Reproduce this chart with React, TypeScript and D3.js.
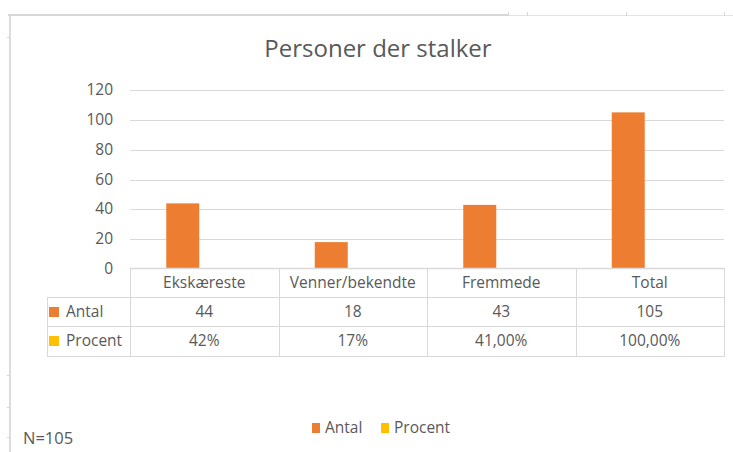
import React from "react";
import * as d3 from "d3";

const categories = ["Ekskæreste", "Venner/bekendte", "Fremmede", "Total"];
const antal = [44, 18, 43, 105];
const procent = [0.42, 0.17, 0.41, 1.0];
const antalLabels = ["44", "18", "43", "105"];
const procentLabels = ["42%", "17%", "41,00%", "100,00%"];
const yTicks = [0, 20, 40, 60, 80, 100, 120];
const seriesNames = ["Antal", "Procent"];
const seriesColors = ["#ED7D31", "#FFC000"];

const W = 733;
const H = 452;
const FONT = "'Open Sans', sans-serif";
const TXT = "#595959";
const GRID = "#d9d9d9";

export default function App() {
  const left = 130;
  const right = 724;
  const top = 90;
  const bottom = 269;
  const x = d3.scaleBand<string>().domain(categories).range([left, right]);
  const y = d3.scaleLinear().domain([0, 120]).range([bottom, top]);
  const barW = 33;
  const rows = [269, 298, 327, 357];
  const tableLeft = 47;
  const baselines = [288, 317, 346];

  return (
    <svg width={W} height={H} style={{ position: "absolute", left: 0, top: 0, background: "#fff" }}>
      {/* spreadsheet frame */}
      <line x1={8} x2={508} y1={15} y2={15} stroke="#d6d6d6" strokeWidth={2} />
      <line x1={508} x2={733} y1={15.5} y2={15.5} stroke="#e3e3e3" strokeWidth={1} />
      {[508, 527, 626, 724].map((v) => (
        <line key={v} x1={v + 0.5} x2={v + 0.5} y1={12} y2={16} stroke="#d6d6d6" />
      ))}
      <line x1={10} x2={10} y1={15} y2={452} stroke="#dcdcdc" strokeWidth={2} />
      {[37, 375, 407, 437].map((v) => (
        <line key={v} x1={7} x2={10} y1={v + 0.5} y2={v + 0.5} stroke="#d6d6d6" />
      ))}

      {/* title */}
      <text x={378} y={57} textAnchor="middle" fontFamily={FONT} fontSize={24} fill={TXT}>
        Personer der stalker
      </text>

      {/* grid + y ticks */}
      {yTicks.map((t) => (
        <g key={t}>
          {t > 0 && (
            <line x1={left} x2={right} y1={Math.round(y(t)) + 0.5} y2={Math.round(y(t)) + 0.5} stroke={GRID} />
          )}
          <text x={113} y={y(t) + 5} textAnchor="end" fontFamily={FONT} fontSize={15.5} fill={TXT}>
            {t}
          </text>
        </g>
      ))}

      {/* bars */}
      {categories.map((c, i) => {
        const cx = (x(c) as number) + x.bandwidth() / 2;
        const hA = bottom - y(antal[i]);
        const hP = Math.floor(bottom - y(procent[i]));
        return (
          <g key={c}>
            <rect x={cx - 5 - barW} width={barW} y={bottom - hA} height={hA} fill={seriesColors[0]} />
            <rect x={cx - 5} width={barW} y={bottom - hP} height={hP} fill={seriesColors[1]} />
          </g>
        );
      })}

      {/* data table */}
      {rows.map((r, i) => (
        <line
          key={i}
          x1={i === 0 ? left : tableLeft}
          x2={right + 1}
          y1={r - 0.5}
          y2={r - 0.5}
          stroke={GRID}
          strokeWidth={i === 0 ? 1.5 : 1}
        />
      ))}
      <line x1={tableLeft + 0.5} x2={tableLeft + 0.5} y1={rows[1] - 1} y2={rows[3]} stroke={GRID} />
      {categories.map((c) => (
        <line
          key={c}
          x1={Math.round(x(c) as number) + 0.5}
          x2={Math.round(x(c) as number) + 0.5}
          y1={bottom - 1}
          y2={rows[3]}
          stroke={GRID}
        />
      ))}
      <line x1={right + 0.5} x2={right + 0.5} y1={bottom - 1} y2={rows[3]} stroke={GRID} />
      {categories.map((c, i) => {
        const cx = (x(c) as number) + x.bandwidth() / 2;
        return (
          <g key={c} fontFamily={FONT} fontSize={15.5} fill={TXT} textAnchor="middle">
            <text x={cx} y={baselines[0]}>{c}</text>
            <text x={cx} y={baselines[1]}>{antalLabels[i]}</text>
            <text x={cx} y={baselines[2]}>{procentLabels[i]}</text>
          </g>
        );
      })}
      {seriesNames.map((s, i) => (
        <g key={s}>
          <rect x={49} y={baselines[i + 1] - 10} width={10} height={10} fill={seriesColors[i]} />
          <text x={66} y={baselines[i + 1]} fontFamily={FONT} fontSize={15.5} fill={TXT}>
            {s}
          </text>
        </g>
      ))}

      {/* legend */}
      <g fontFamily={FONT} fontSize={15.5} fill={TXT}>
        <rect x={312} y={423} width={8} height={10} fill={seriesColors[0]} />
        <text x={325} y={433}>{seriesNames[0]}</text>
        <rect x={381} y={423} width={8} height={10} fill={seriesColors[1]} />
        <text x={394} y={433}>{seriesNames[1]}</text>
      </g>

      <text x={23} y={444} fontFamily={FONT} fontSize={16.5} fill={TXT}>
        N=105
      </text>
    </svg>
  );
}
